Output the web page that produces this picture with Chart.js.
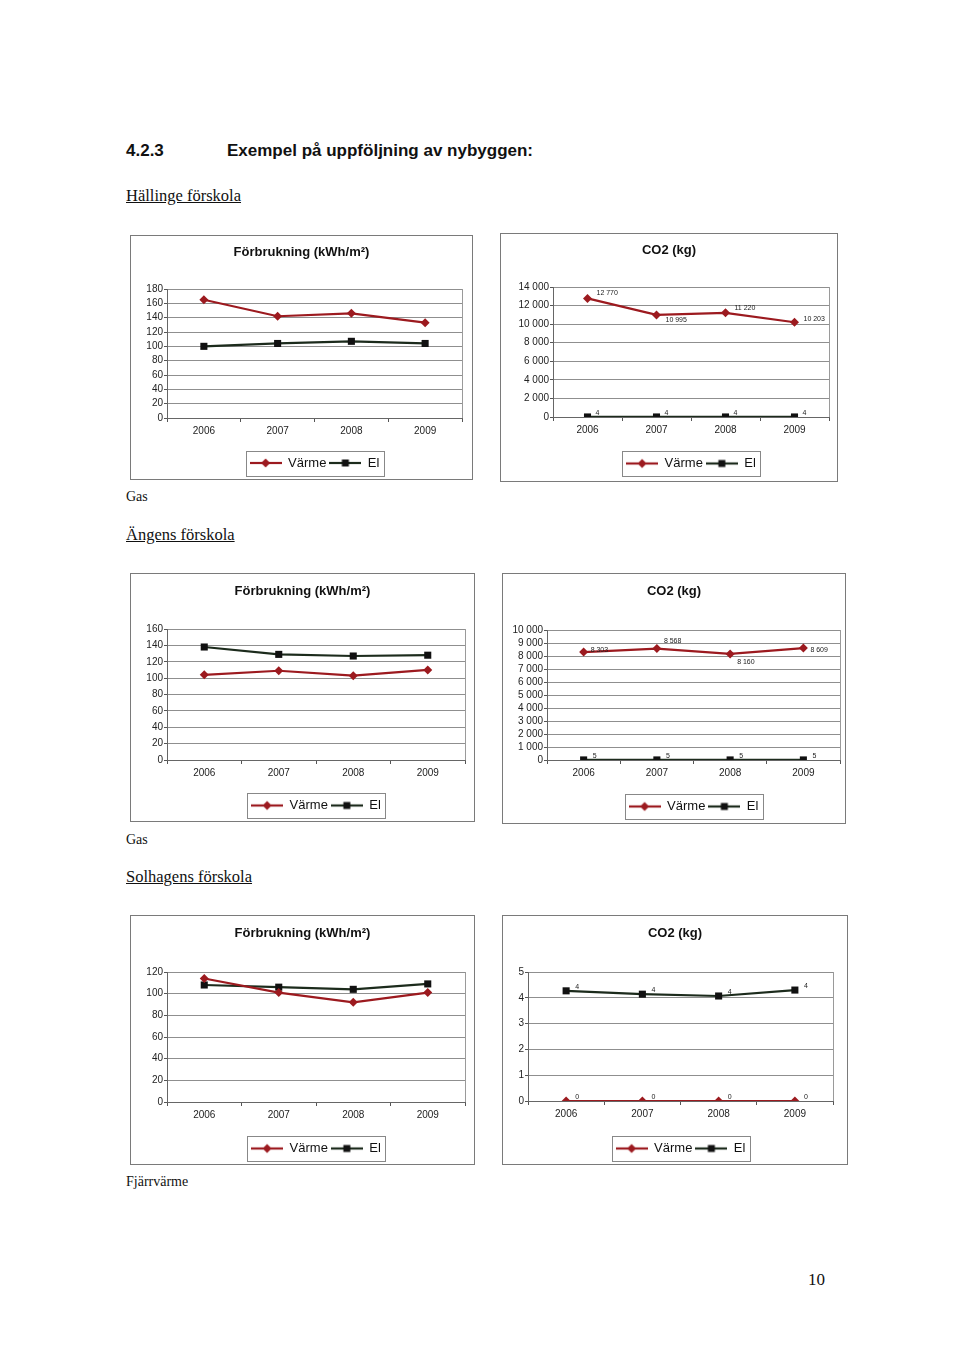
<!DOCTYPE html>
<html>
<head>
<meta charset="utf-8">
<script src="https://cdn.jsdelivr.net/npm/chart.js@4.4.1/dist/chart.umd.min.js"></script>
<style>
  body { margin: 0; background: #fff; width: 960px; height: 1366px; position: relative; overflow: hidden; color: #111; }
  .t { position: absolute; white-space: nowrap; line-height: 20px; font-family: "Liberation Serif", serif; }
  .h { font-family: "Liberation Sans", Arial, sans-serif; font-weight: bold; font-size: 17px; }
  .s { font-size: 16.5px; text-decoration: underline; }
  .n { font-size: 14px; }
  canvas { position: absolute; }
</style>
</head>
<body>
<div class="t h" style="left:126px;top:141px">4.2.3</div>
<div class="t h" style="left:227px;top:141px">Exempel på uppföljning av nybyggen:</div>
<div class="t s" style="left:126px;top:186px">Hällinge förskola</div>
<div class="t n" style="left:126px;top:487px">Gas</div>
<div class="t s" style="left:126px;top:525px">Ängens förskola</div>
<div class="t n" style="left:126px;top:830px">Gas</div>
<div class="t s" style="left:126px;top:867px">Solhagens förskola</div>
<div class="t n" style="left:126px;top:1172px">Fjärrvärme</div>
<div class="t" style="left:808px;top:1270px;font-size:17px">10</div>

<canvas id="c1"></canvas>
<canvas id="c2"></canvas>
<canvas id="c3"></canvas>
<canvas id="c4"></canvas>
<canvas id="c5"></canvas>
<canvas id="c6"></canvas>

<script>
// data
const years = ['2006', '2007', '2008', '2009'];
const seriesNames = ['Värme', 'El'];
const kwhTitle = 'Förbrukning (kWh/m²)';
const co2Title = 'CO2 (kg)';

const hallingeKwhVarme = [165, 142, 146, 133];
const hallingeKwhEl = [100, 104, 107, 104];
const hallingeCo2Varme = [12770, 10995, 11220, 10203];
const hallingeCo2El = [4, 4, 4, 4];

const angenKwhVarme = [104, 109, 103, 110];
const angenKwhEl = [138, 129, 127, 128];
const angenCo2Varme = [8303, 8568, 8160, 8609];
const angenCo2El = [5, 5, 5, 5];

const solhagenKwhVarme = [114, 101, 92, 101];
const solhagenKwhEl = [108, 106, 104, 109];
const solhagenCo2Varme = [0, 0, 0, 0];
const solhagenCo2El = [4.27, 4.14, 4.07, 4.3];

const VARME = '#9c1a1f';
const EL = '#1c2b1c';

Chart.defaults.font.family = '"Liberation Sans", Arial, sans-serif';
Chart.defaults.color = '#1a1a1a';

const fmt = v => String(v).replace(/\B(?=(\d{3})+(?!\d))/g, ' ');

// little line+marker icons for the legend
function legendIcon(color, marker) {
    const c = document.createElement('canvas');
    c.width = 32; c.height = 12;
    const g = c.getContext('2d');
    g.strokeStyle = color; g.lineWidth = 2.2;
    g.beginPath(); g.moveTo(0, 6); g.lineTo(32, 6); g.stroke();
    g.fillStyle = marker === 'rect' ? '#111' : color;
    g.beginPath();
    if (marker === 'rect') {
        g.rect(12.5, 2.5, 7, 7);
    } else {
        g.moveTo(16, 1.5); g.lineTo(20.5, 6); g.lineTo(16, 10.5); g.lineTo(11.5, 6);
        g.closePath();
    }
    g.fill();
    return c;
}
const icons = [legendIcon(VARME, 'rectRot'), legendIcon(EL, 'rect')];

Chart.register({
    id: 'decor',
    beforeDatasetsDraw(chart) {
        const { ctx, chartArea: a } = chart;
        ctx.save();
        ctx.strokeStyle = '#9a9a9a';
        ctx.lineWidth = 1;
        const x = Math.round(a.right) + 0.5;
        ctx.beginPath(); ctx.moveTo(x, a.top); ctx.lineTo(x, a.bottom); ctx.stroke();
        ctx.restore();
    },
    afterDatasetsDraw(chart, args, opts) {
        if (!opts.offsets) return;
        const ctx = chart.ctx;
        ctx.save();
        ctx.font = '7px "Liberation Sans", Arial, sans-serif';
        ctx.fillStyle = '#222';
        ctx.textAlign = 'left';
        ctx.textBaseline = 'middle';
        chart.data.datasets.forEach((ds, i) => {
            const off = opts.offsets[i];
            chart.getDatasetMeta(i).data.forEach((pt, j) => {
                ctx.fillText(fmt(Math.round(ds.data[j])), pt.x + off.dx, pt.y + off.dy[j]);
            });
        });
        ctx.restore();
    },
    afterDraw(chart) {
        const ctx = chart.ctx;
        ctx.save();
        ctx.strokeStyle = '#7a7a7a';
        ctx.lineWidth = 1;
        ctx.strokeRect(0.5, 0.5, chart.width - 1, chart.height - 1);
        const hb = chart.legend.legendHitBoxes;
        if (hb && hb.length) {
            const l = Math.min(...hb.map(b => b.left)) - 4;
            const r = Math.max(...hb.map(b => b.left + b.width)) + 4;
            const t = hb[0].top - 6;
            ctx.strokeStyle = '#888';
            ctx.strokeRect(Math.round(l) + 0.5, Math.round(t) + 0.5, Math.round(r - l), hb[0].height + 12);
        }
        ctx.restore();
    }
});

function makeChart(id, o) {
    const [bx, by, bw, bh] = o.box;
    const [pl, pt, pr, pb] = o.plot;
    const cv = document.getElementById(id);
    cv.width = bw; cv.height = bh;
    cv.style.left = bx + 'px'; cv.style.top = by + 'px';

    const padR = bw - pr;
    const legendPad = 3, legendFont = 13;
    const legendH = legendFont + legendPad + 10;
    const legendTop = o.legendY - (legendPad + legendFont / 2);
    const padB = Math.max(0, bh - legendTop - legendH);

    new Chart(cv.getContext('2d'), {
        type: 'line',
        data: {
            labels: years,
            datasets: [{
                label: seriesNames[0],
                data: o.varme,
                borderColor: VARME,
                backgroundColor: VARME,
                borderWidth: 2.2,
                pointStyle: 'rectRot',
                pointRadius: 4.5,
                pointBorderWidth: 0,
                tension: 0
            }, {
                label: seriesNames[1],
                data: o.el,
                borderColor: EL,
                backgroundColor: '#111',
                borderWidth: 2.2,
                pointStyle: 'rect',
                pointRadius: 5,
                pointBorderWidth: 0,
                tension: 0
            }]
        },
        options: {
            responsive: false,
            animation: false,
            layout: { padding: { left: padR, right: padR, top: 0, bottom: padB } },
            scales: {
                x: {
                    offset: true,
                    grid: { offset: true, drawOnChartArea: false, drawTicks: true, tickLength: 4, color: '#555' },
                    border: { color: '#666' },
                    ticks: { font: { size: 10 }, padding: 3, color: '#222' },
                    afterFit: s => { s.height = legendTop - pb; }
                },
                y: {
                    min: 0,
                    max: o.max,
                    ticks: {
                        stepSize: o.step, autoSkip: false, maxTicksLimit: 20,
                        font: { size: 10, lineHeight: 1 }, padding: 1, color: '#222',
                        callback: v => fmt(v)
                    },
                    grid: { color: '#8f8f8f', tickLength: 3, tickColor: '#555' },
                    border: { color: '#666' },
                    afterFit: s => { s.width = pl - padR; }
                }
            },
            plugins: {
                title: {
                    display: true,
                    text: o.title,
                    color: '#111',
                    font: { size: 13, weight: 'bold' },
                    padding: { top: o.titleY - 7.8, bottom: pt - o.titleY - 7.8 }
                },
                legend: {
                    position: 'bottom',
                    fullSize: false,
                    labels: {
                        usePointStyle: true,
                        pointStyleWidth: 32,
                        padding: legendPad,
                        color: '#111',
                        font: { size: legendFont },
                        generateLabels: chart => Chart.defaults.plugins.legend.labels.generateLabels(chart)
                            .map((l, i) => Object.assign(l, { pointStyle: icons[i] }))
                    }
                },
                tooltip: { enabled: false },
                decor: { offsets: o.offsets || null }
            }
        }
    });
}

makeChart('c1', { title: kwhTitle, varme: hallingeKwhVarme, el: hallingeKwhEl, max: 180, step: 20,
    box: [130, 235, 343, 245], plot: [37, 54, 332, 183], titleY: 17, legendY: 228 });
makeChart('c2', { title: co2Title, varme: hallingeCo2Varme, el: hallingeCo2El, max: 14000, step: 2000,
    box: [500, 233, 338, 249], plot: [53, 54, 329, 184], titleY: 17, legendY: 230.5,
    offsets: [{ dx: 9, dy: [-5, 5, -5, -3] }, { dx: 8, dy: [-4, -4, -4, -4] }] });
makeChart('c3', { title: kwhTitle, varme: angenKwhVarme, el: angenKwhEl, max: 160, step: 20,
    box: [130, 573, 345, 249], plot: [37, 56, 335, 187], titleY: 18, legendY: 232.5 });
makeChart('c4', { title: co2Title, varme: angenCo2Varme, el: angenCo2El, max: 10000, step: 1000,
    box: [502, 573, 344, 251], plot: [45, 57, 338, 187], titleY: 18, legendY: 233.5,
    offsets: [{ dx: 7, dy: [-2, -8, 8, 2] }, { dx: 9, dy: [-4, -4, -4, -4] }] });
makeChart('c5', { title: kwhTitle, varme: solhagenKwhVarme, el: solhagenKwhEl, max: 120, step: 20,
    box: [130, 915, 345, 250], plot: [37, 57, 335, 187], titleY: 18, legendY: 233.5 });
makeChart('c6', { title: co2Title, varme: solhagenCo2Varme, el: solhagenCo2El, max: 5, step: 1,
    box: [502, 915, 346, 250], plot: [26, 57, 331, 186], titleY: 18, legendY: 233.5,
    offsets: [{ dx: 9, dy: [-4, -4, -4, -4] }, { dx: 9, dy: [-4, -4, -4, -4] }] });
</script>
</body>
</html>
